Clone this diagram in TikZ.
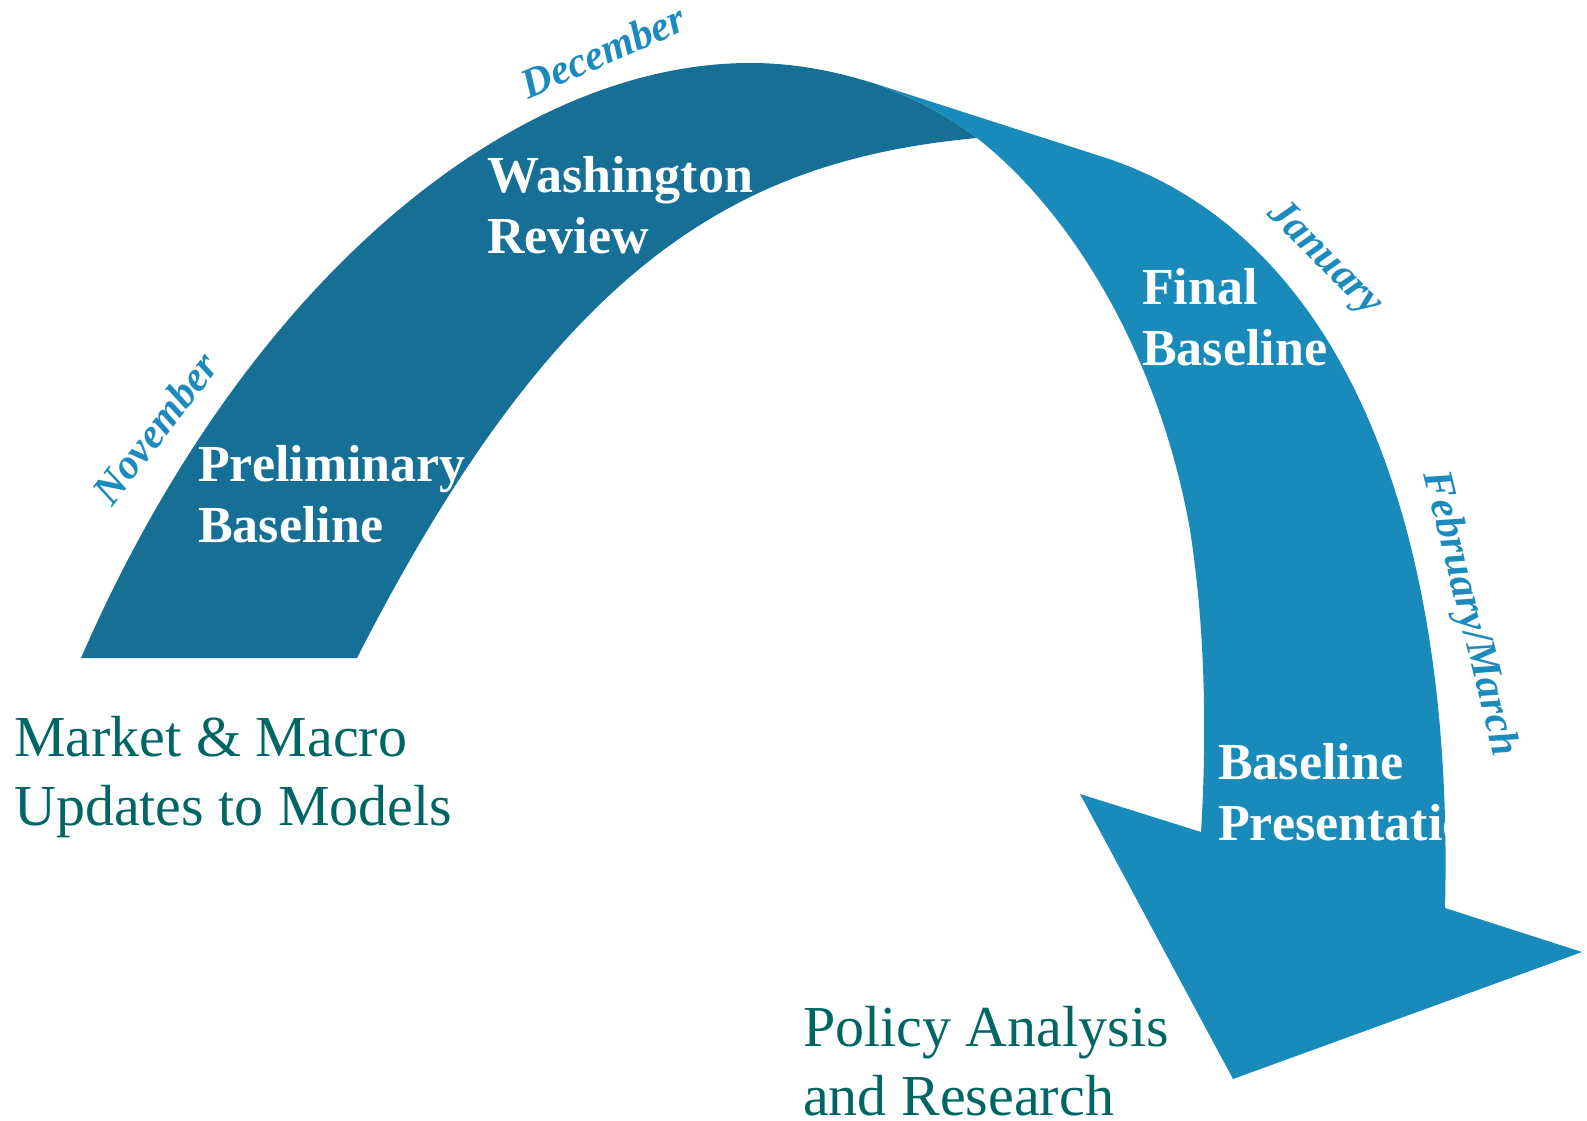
\documentclass[tikz,border=0pt]{standalone}
\usepackage{fontspec}
\setmainfont{Liberation Serif}
\definecolor{archdark}{RGB}{22,112,150}
\definecolor{archlight}{RGB}{25,139,187}
\definecolor{monthblue}{RGB}{27,139,189}
\definecolor{noteteal}{RGB}{0,102,99}

% dark band: November to December
\newcommand{\leftband}{(81,658) .. controls (250,270) and (520,63) .. (750,63)
  .. controls (800,63) and (840,73) .. (873,83)
  .. controls (920,100) and (950,118) .. (977,138)
  .. controls (740,160) and (560,260) .. (357,658) -- cycle}
% light band with the arrow head: January to February/March
\newcommand{\rightband}{(873,83) -- (1103,157)
  .. controls (1330,230) and (1455,500) .. (1445,908)
  -- (1582,952) -- (1233,1079) -- (1080,794) -- (1201,832)
  .. controls (1206,750) and (1207,640) .. (1190,530)
  .. controls (1160,360) and (1075,215) .. (977,138)
  .. controls (950,118) and (920,100) .. (873,83) -- cycle}

\begin{document}
\begin{tikzpicture}[x=1pt,y=-1pt,
  bandlabel/.style={text=white,font=\fontsize{52}{61}\selectfont\bfseries,align=left,anchor=base west,inner sep=0pt},
  monthlabel/.style={text=monthblue,font=\fontsize{42}{50}\selectfont\bfseries\itshape,inner sep=0pt},
  notelabel/.style={text=noteteal,font=\fontsize{58}{69}\selectfont,align=left,anchor=base west,inner sep=0pt}]
\useasboundingbox (0,0) rectangle (1587,1121);

\fill[archdark] \leftband;
\begin{scope}
\clip \leftband;
\node[bandlabel] (prelim) at (198,542) {Preliminary\\Baseline};
\node[bandlabel] (washington) at (487,253) {Washington\\Review};
\end{scope}

\fill[archlight] \rightband;
\begin{scope}
\clip \rightband;
\node[bandlabel] (final) at (1142,365) {Final\\Baseline};
\node[bandlabel] (present) at (1218,840) {Baseline\\Presentation};
\end{scope}

% months
\node[monthlabel,rotate=52.5] (nov) at (155,428) {November};
\node[monthlabel,rotate=23.5] (dec) at (603,51) {December};
\node[monthlabel,rotate=-45] (jan) at (1324,259) {January};
\node[monthlabel,rotate=-76] (febmar) at (1469,614) {February/March};

\node[notelabel] (market) at (14,825) {Market \& Macro\\Updates to Models};
\node[notelabel] (policy) at (803,1115) {Policy Analysis\\and Research};
\end{tikzpicture}
\end{document}
